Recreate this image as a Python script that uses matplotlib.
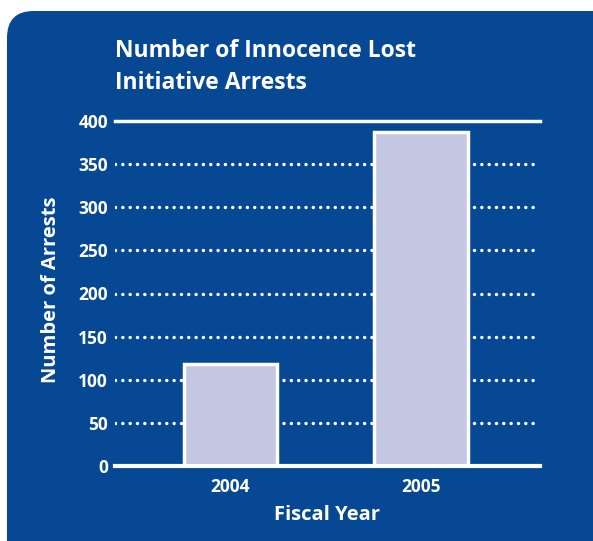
import matplotlib.pyplot as plt
from matplotlib.patches import FancyBboxPatch

years = ["2004", "2005"]
arrests = [118, 387]
yticks = [0, 50, 100, 150, 200, 250, 300, 350, 400]
title_lines = ["Number of Innocence Lost", "Initiative Arrests"]

blue = "#064893"
bar_color = "#c3c7e2"

plt.rcParams["font.family"] = ["Open Sans", "DejaVu Sans"]
plt.rcParams["font.weight"] = "bold"

fig = plt.figure(figsize=(5.93, 5.41), dpi=100)
fig.patch.set_facecolor("white")

# rounded blue panel behind everything
W, H = 593, 541
panel = FancyBboxPatch((7 / W, -30 / H), (620 - 7) / W, (541 - 11 + 30) / H,
                       boxstyle="round,pad=0,rounding_size=0.045",
                       transform=fig.transFigure, facecolor=blue, edgecolor="none",
                       mutation_aspect=W / H, zorder=-5)
fig.patches.append(panel)

ax = fig.add_axes([115 / W, (541 - 466) / H, (540 - 115) / W, (466 - 121) / H])
ax.set_facecolor("none")
ax.set_zorder(2)

x = range(len(years))
ax.bar(x, arrests, width=0.49, color=bar_color, edgecolor="white", linewidth=2.5, zorder=3)

ax.set_ylim(0, 400)
ax.set_xlim(-0.606, 1.625)
ax.set_yticks(yticks)
ax.set_xticks(list(x))
ax.set_xticklabels(years)

for v in yticks[1:-1]:
    ax.plot([-0.606, 1.60], [v, v], color="white", linestyle=(0, (0.01, 2.1)), linewidth=2.5,
            dash_capstyle="round", zorder=1)
ax.axhline(400, color="white", linewidth=2.5, zorder=1, clip_on=False)

for s in ["top", "right", "left"]:
    ax.spines[s].set_visible(False)
ax.spines["bottom"].set_color("white")
ax.spines["bottom"].set_linewidth(3)
ax.spines["bottom"].set_zorder(4)

ax.tick_params(axis="both", length=0, colors="white", labelsize=12.5)
ax.tick_params(axis="y", pad=5)
ax.tick_params(axis="x", pad=9)
for t in ax.get_xticklabels() + ax.get_yticklabels():
    t.set_fontweight("bold")

ax.set_xlabel("Fiscal Year", color="white", fontsize=14.5, fontweight="bold")
ax.xaxis.set_label_coords(0.5, -0.112)
ax.set_ylabel("Number of Arrests", color="white", fontsize=14.5, fontweight="bold")
ax.yaxis.set_label_coords(-0.128, 0.51)

for i, line in enumerate(title_lines):
    fig.text(115 / W, 1 - (57 + 32 * i) / H, line, color="white",
             fontsize=16.5, fontweight="bold", va="baseline", ha="left")

fig.savefig("out.png", dpi=100, facecolor="white")
